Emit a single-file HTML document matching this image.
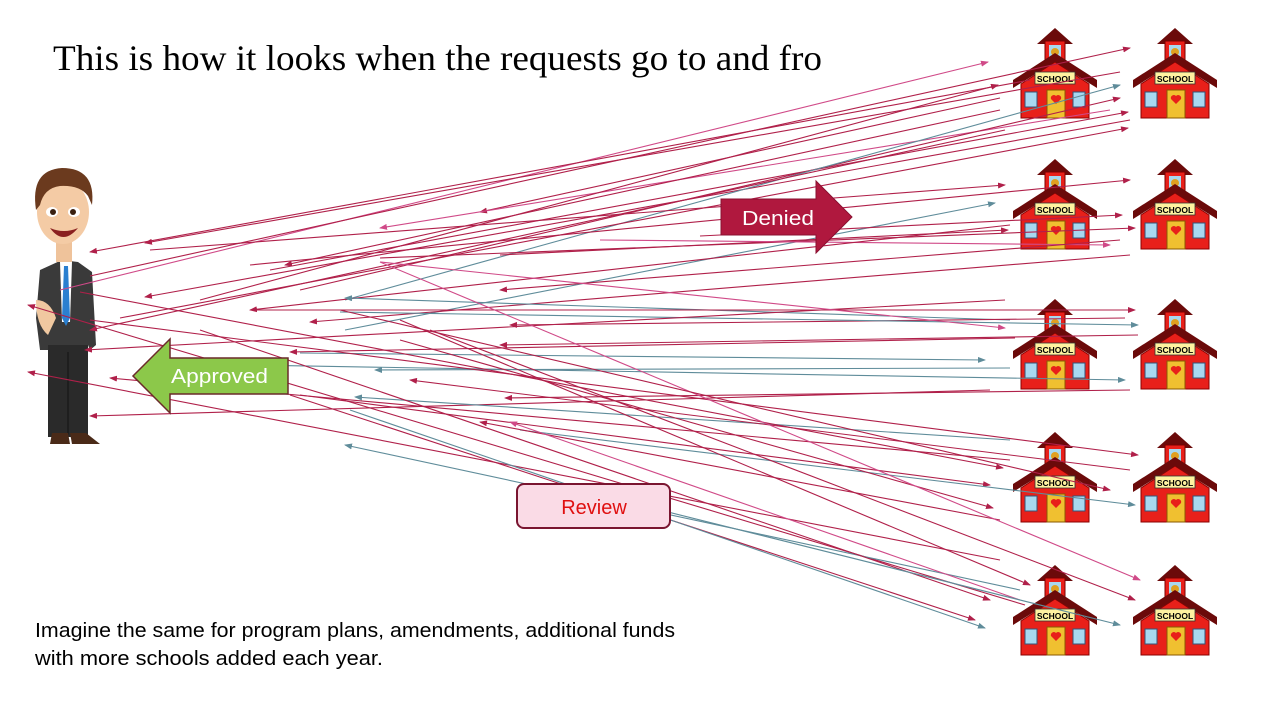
<!DOCTYPE html>
<html><head><meta charset="utf-8"><style>
html,body{margin:0;padding:0;background:#fff;}
svg{display:block}
</style></head><body>
<svg width="1280" height="720" viewBox="0 0 1280 720" xmlns="http://www.w3.org/2000/svg">
<defs>
<marker id="mc" markerWidth="8" markerHeight="6" refX="7" refY="3" orient="auto" markerUnits="userSpaceOnUse"><path d="M0,0 L8,3 L0,6z" fill="#b0204a"/></marker>
<marker id="mp" markerWidth="8" markerHeight="6" refX="7" refY="3" orient="auto" markerUnits="userSpaceOnUse"><path d="M0,0 L8,3 L0,6z" fill="#d04a88"/></marker>
<marker id="mt" markerWidth="8" markerHeight="6" refX="7" refY="3" orient="auto" markerUnits="userSpaceOnUse"><path d="M0,0 L8,3 L0,6z" fill="#5f8c9a"/></marker>
</defs>
<text x="53" y="70" font-family="Liberation Serif, serif" font-size="36" textLength="769" lengthAdjust="spacingAndGlyphs" fill="#000">This is how it looks when the requests go to and fro</text>

<g id="schools">
<g transform="translate(1013,28)"><polygon points="42,0 24,16 60,16" fill="#6b0a0a"/><rect x="32" y="13" width="20" height="24" fill="#e8201a" stroke="#700" /><rect x="36" y="17" width="12" height="13" fill="#a8d8f0"/><circle cx="42" cy="24" r="4" fill="#e0a020"/><polygon points="8,56 42,34 76,56 76,90 8,90" fill="#e8201a" stroke="#8a0000"/><polygon points="0,52 42,25 84,52 84,60 42,34 0,60" fill="#6b0a0a"/><rect x="22" y="44" width="40" height="12" fill="#fff2a0" stroke="#333" stroke-width=".8"/><text x="42" y="54" text-anchor="middle" font-family="Liberation Sans,sans-serif" font-weight="bold" font-size="8.5">SCHOOL</text><rect x="12" y="64" width="12" height="15" fill="#a8d8f0" stroke="#357"/><rect x="60" y="64" width="12" height="15" fill="#a8d8f0" stroke="#357"/><rect x="34" y="62" width="18" height="28" fill="#f0c030" stroke="#8a5a00"/><path d="M43,76 l-5,-5 a3,3 0 0 1 5,-3 a3,3 0 0 1 5,3z" fill="#e8201a"/></g>
<g transform="translate(1133,28)"><polygon points="42,0 24,16 60,16" fill="#6b0a0a"/><rect x="32" y="13" width="20" height="24" fill="#e8201a" stroke="#700" /><rect x="36" y="17" width="12" height="13" fill="#a8d8f0"/><circle cx="42" cy="24" r="4" fill="#e0a020"/><polygon points="8,56 42,34 76,56 76,90 8,90" fill="#e8201a" stroke="#8a0000"/><polygon points="0,52 42,25 84,52 84,60 42,34 0,60" fill="#6b0a0a"/><rect x="22" y="44" width="40" height="12" fill="#fff2a0" stroke="#333" stroke-width=".8"/><text x="42" y="54" text-anchor="middle" font-family="Liberation Sans,sans-serif" font-weight="bold" font-size="8.5">SCHOOL</text><rect x="12" y="64" width="12" height="15" fill="#a8d8f0" stroke="#357"/><rect x="60" y="64" width="12" height="15" fill="#a8d8f0" stroke="#357"/><rect x="34" y="62" width="18" height="28" fill="#f0c030" stroke="#8a5a00"/><path d="M43,76 l-5,-5 a3,3 0 0 1 5,-3 a3,3 0 0 1 5,3z" fill="#e8201a"/></g>
<g transform="translate(1013,159)"><polygon points="42,0 24,16 60,16" fill="#6b0a0a"/><rect x="32" y="13" width="20" height="24" fill="#e8201a" stroke="#700" /><rect x="36" y="17" width="12" height="13" fill="#a8d8f0"/><circle cx="42" cy="24" r="4" fill="#e0a020"/><polygon points="8,56 42,34 76,56 76,90 8,90" fill="#e8201a" stroke="#8a0000"/><polygon points="0,52 42,25 84,52 84,60 42,34 0,60" fill="#6b0a0a"/><rect x="22" y="44" width="40" height="12" fill="#fff2a0" stroke="#333" stroke-width=".8"/><text x="42" y="54" text-anchor="middle" font-family="Liberation Sans,sans-serif" font-weight="bold" font-size="8.5">SCHOOL</text><rect x="12" y="64" width="12" height="15" fill="#a8d8f0" stroke="#357"/><rect x="60" y="64" width="12" height="15" fill="#a8d8f0" stroke="#357"/><rect x="34" y="62" width="18" height="28" fill="#f0c030" stroke="#8a5a00"/><path d="M43,76 l-5,-5 a3,3 0 0 1 5,-3 a3,3 0 0 1 5,3z" fill="#e8201a"/></g>
<g transform="translate(1133,159)"><polygon points="42,0 24,16 60,16" fill="#6b0a0a"/><rect x="32" y="13" width="20" height="24" fill="#e8201a" stroke="#700" /><rect x="36" y="17" width="12" height="13" fill="#a8d8f0"/><circle cx="42" cy="24" r="4" fill="#e0a020"/><polygon points="8,56 42,34 76,56 76,90 8,90" fill="#e8201a" stroke="#8a0000"/><polygon points="0,52 42,25 84,52 84,60 42,34 0,60" fill="#6b0a0a"/><rect x="22" y="44" width="40" height="12" fill="#fff2a0" stroke="#333" stroke-width=".8"/><text x="42" y="54" text-anchor="middle" font-family="Liberation Sans,sans-serif" font-weight="bold" font-size="8.5">SCHOOL</text><rect x="12" y="64" width="12" height="15" fill="#a8d8f0" stroke="#357"/><rect x="60" y="64" width="12" height="15" fill="#a8d8f0" stroke="#357"/><rect x="34" y="62" width="18" height="28" fill="#f0c030" stroke="#8a5a00"/><path d="M43,76 l-5,-5 a3,3 0 0 1 5,-3 a3,3 0 0 1 5,3z" fill="#e8201a"/></g>
<g transform="translate(1013,299)"><polygon points="42,0 24,16 60,16" fill="#6b0a0a"/><rect x="32" y="13" width="20" height="24" fill="#e8201a" stroke="#700" /><rect x="36" y="17" width="12" height="13" fill="#a8d8f0"/><circle cx="42" cy="24" r="4" fill="#e0a020"/><polygon points="8,56 42,34 76,56 76,90 8,90" fill="#e8201a" stroke="#8a0000"/><polygon points="0,52 42,25 84,52 84,60 42,34 0,60" fill="#6b0a0a"/><rect x="22" y="44" width="40" height="12" fill="#fff2a0" stroke="#333" stroke-width=".8"/><text x="42" y="54" text-anchor="middle" font-family="Liberation Sans,sans-serif" font-weight="bold" font-size="8.5">SCHOOL</text><rect x="12" y="64" width="12" height="15" fill="#a8d8f0" stroke="#357"/><rect x="60" y="64" width="12" height="15" fill="#a8d8f0" stroke="#357"/><rect x="34" y="62" width="18" height="28" fill="#f0c030" stroke="#8a5a00"/><path d="M43,76 l-5,-5 a3,3 0 0 1 5,-3 a3,3 0 0 1 5,3z" fill="#e8201a"/></g>
<g transform="translate(1133,299)"><polygon points="42,0 24,16 60,16" fill="#6b0a0a"/><rect x="32" y="13" width="20" height="24" fill="#e8201a" stroke="#700" /><rect x="36" y="17" width="12" height="13" fill="#a8d8f0"/><circle cx="42" cy="24" r="4" fill="#e0a020"/><polygon points="8,56 42,34 76,56 76,90 8,90" fill="#e8201a" stroke="#8a0000"/><polygon points="0,52 42,25 84,52 84,60 42,34 0,60" fill="#6b0a0a"/><rect x="22" y="44" width="40" height="12" fill="#fff2a0" stroke="#333" stroke-width=".8"/><text x="42" y="54" text-anchor="middle" font-family="Liberation Sans,sans-serif" font-weight="bold" font-size="8.5">SCHOOL</text><rect x="12" y="64" width="12" height="15" fill="#a8d8f0" stroke="#357"/><rect x="60" y="64" width="12" height="15" fill="#a8d8f0" stroke="#357"/><rect x="34" y="62" width="18" height="28" fill="#f0c030" stroke="#8a5a00"/><path d="M43,76 l-5,-5 a3,3 0 0 1 5,-3 a3,3 0 0 1 5,3z" fill="#e8201a"/></g>
<g transform="translate(1013,432)"><polygon points="42,0 24,16 60,16" fill="#6b0a0a"/><rect x="32" y="13" width="20" height="24" fill="#e8201a" stroke="#700" /><rect x="36" y="17" width="12" height="13" fill="#a8d8f0"/><circle cx="42" cy="24" r="4" fill="#e0a020"/><polygon points="8,56 42,34 76,56 76,90 8,90" fill="#e8201a" stroke="#8a0000"/><polygon points="0,52 42,25 84,52 84,60 42,34 0,60" fill="#6b0a0a"/><rect x="22" y="44" width="40" height="12" fill="#fff2a0" stroke="#333" stroke-width=".8"/><text x="42" y="54" text-anchor="middle" font-family="Liberation Sans,sans-serif" font-weight="bold" font-size="8.5">SCHOOL</text><rect x="12" y="64" width="12" height="15" fill="#a8d8f0" stroke="#357"/><rect x="60" y="64" width="12" height="15" fill="#a8d8f0" stroke="#357"/><rect x="34" y="62" width="18" height="28" fill="#f0c030" stroke="#8a5a00"/><path d="M43,76 l-5,-5 a3,3 0 0 1 5,-3 a3,3 0 0 1 5,3z" fill="#e8201a"/></g>
<g transform="translate(1133,432)"><polygon points="42,0 24,16 60,16" fill="#6b0a0a"/><rect x="32" y="13" width="20" height="24" fill="#e8201a" stroke="#700" /><rect x="36" y="17" width="12" height="13" fill="#a8d8f0"/><circle cx="42" cy="24" r="4" fill="#e0a020"/><polygon points="8,56 42,34 76,56 76,90 8,90" fill="#e8201a" stroke="#8a0000"/><polygon points="0,52 42,25 84,52 84,60 42,34 0,60" fill="#6b0a0a"/><rect x="22" y="44" width="40" height="12" fill="#fff2a0" stroke="#333" stroke-width=".8"/><text x="42" y="54" text-anchor="middle" font-family="Liberation Sans,sans-serif" font-weight="bold" font-size="8.5">SCHOOL</text><rect x="12" y="64" width="12" height="15" fill="#a8d8f0" stroke="#357"/><rect x="60" y="64" width="12" height="15" fill="#a8d8f0" stroke="#357"/><rect x="34" y="62" width="18" height="28" fill="#f0c030" stroke="#8a5a00"/><path d="M43,76 l-5,-5 a3,3 0 0 1 5,-3 a3,3 0 0 1 5,3z" fill="#e8201a"/></g>
<g transform="translate(1013,565)"><polygon points="42,0 24,16 60,16" fill="#6b0a0a"/><rect x="32" y="13" width="20" height="24" fill="#e8201a" stroke="#700" /><rect x="36" y="17" width="12" height="13" fill="#a8d8f0"/><circle cx="42" cy="24" r="4" fill="#e0a020"/><polygon points="8,56 42,34 76,56 76,90 8,90" fill="#e8201a" stroke="#8a0000"/><polygon points="0,52 42,25 84,52 84,60 42,34 0,60" fill="#6b0a0a"/><rect x="22" y="44" width="40" height="12" fill="#fff2a0" stroke="#333" stroke-width=".8"/><text x="42" y="54" text-anchor="middle" font-family="Liberation Sans,sans-serif" font-weight="bold" font-size="8.5">SCHOOL</text><rect x="12" y="64" width="12" height="15" fill="#a8d8f0" stroke="#357"/><rect x="60" y="64" width="12" height="15" fill="#a8d8f0" stroke="#357"/><rect x="34" y="62" width="18" height="28" fill="#f0c030" stroke="#8a5a00"/><path d="M43,76 l-5,-5 a3,3 0 0 1 5,-3 a3,3 0 0 1 5,3z" fill="#e8201a"/></g>
<g transform="translate(1133,565)"><polygon points="42,0 24,16 60,16" fill="#6b0a0a"/><rect x="32" y="13" width="20" height="24" fill="#e8201a" stroke="#700" /><rect x="36" y="17" width="12" height="13" fill="#a8d8f0"/><circle cx="42" cy="24" r="4" fill="#e0a020"/><polygon points="8,56 42,34 76,56 76,90 8,90" fill="#e8201a" stroke="#8a0000"/><polygon points="0,52 42,25 84,52 84,60 42,34 0,60" fill="#6b0a0a"/><rect x="22" y="44" width="40" height="12" fill="#fff2a0" stroke="#333" stroke-width=".8"/><text x="42" y="54" text-anchor="middle" font-family="Liberation Sans,sans-serif" font-weight="bold" font-size="8.5">SCHOOL</text><rect x="12" y="64" width="12" height="15" fill="#a8d8f0" stroke="#357"/><rect x="60" y="64" width="12" height="15" fill="#a8d8f0" stroke="#357"/><rect x="34" y="62" width="18" height="28" fill="#f0c030" stroke="#8a5a00"/><path d="M43,76 l-5,-5 a3,3 0 0 1 5,-3 a3,3 0 0 1 5,3z" fill="#e8201a"/></g>
</g>

<g>
<path d="M40,270 L62,260 L78,262 L92,272 L96,345 L90,350 L88,345 L84,350 L40,350 L36,318 Z" fill="#3a3a3a"/>
<polygon points="60,262 72,262 70,322 62,322" fill="#fff"/>
<polygon points="64,266 68,266 70,318 66,326 62,318" fill="#2a7fd0"/>
<path d="M36,300 Q50,300 56,318 L48,335 Q36,325 36,300z" fill="#f0c8a0"/>
<rect x="48" y="345" width="40" height="92" fill="#2a2a2a"/>
<line x1="68" y1="352" x2="68" y2="437" stroke="#111"/>
<path d="M52,433 L68,433 L70,444 L50,444z" fill="#4a2a18"/>
<path d="M70,433 L86,433 L100,444 L72,444z" fill="#4a2a18"/>
<rect x="56" y="238" width="16" height="24" fill="#efc39b"/>
<ellipse cx="63" cy="212" rx="26" ry="32" fill="#f4cba5"/>
<path d="M36,210 Q30,170 62,168 Q96,168 92,205 L88,196 Q80,185 60,186 Q44,188 40,205z" fill="#6b3a1e"/>
<ellipse cx="52" cy="212" rx="6" ry="5" fill="#fff"/><circle cx="53" cy="212" r="3" fill="#3a2010"/>
<ellipse cx="74" cy="212" rx="6" ry="5" fill="#fff"/><circle cx="73" cy="212" r="3" fill="#3a2010"/>
<path d="M50,228 Q63,246 78,228 Q64,234 50,228z" fill="#8a2020"/>
</g>

<g stroke-width="1.1" fill="none">
<line x1="60" y1="290" x2="988" y2="62" stroke="#d04a88" marker-end="url(#mp)"/>
<line x1="90" y1="276" x2="1130" y2="48" stroke="#b0204a" marker-end="url(#mc)"/>
<line x1="1030" y1="80" x2="90" y2="252" stroke="#b0204a" marker-end="url(#mc)"/>
<line x1="1120" y1="72" x2="145" y2="243" stroke="#b0204a" marker-end="url(#mc)"/>
<line x1="1000" y1="98" x2="480" y2="212" stroke="#b0204a" marker-end="url(#mc)"/>
<line x1="1110" y1="110" x2="380" y2="228" stroke="#d04a88" marker-end="url(#mp)"/>
<line x1="1000" y1="110" x2="285" y2="265" stroke="#b0204a" marker-end="url(#mc)"/>
<line x1="1130" y1="120" x2="145" y2="297" stroke="#b0204a" marker-end="url(#mc)"/>
<line x1="300" y1="290" x2="1120" y2="98" stroke="#b0204a" marker-end="url(#mc)"/>
<line x1="270" y1="270" x2="1128" y2="112" stroke="#b0204a" marker-end="url(#mc)"/>
<line x1="345" y1="300" x2="1120" y2="85" stroke="#5f8c9a" marker-end="url(#mt)"/>
<line x1="200" y1="300" x2="998" y2="85" stroke="#b0204a" marker-end="url(#mc)"/>
<line x1="120" y1="318" x2="1128" y2="128" stroke="#b0204a" marker-end="url(#mc)"/>
<line x1="1005" y1="130" x2="90" y2="330" stroke="#b0204a" marker-end="url(#mc)"/>
<line x1="150" y1="250" x2="1005" y2="185" stroke="#b0204a" marker-end="url(#mc)"/>
<line x1="250" y1="265" x2="1130" y2="180" stroke="#b0204a" marker-end="url(#mc)"/>
<line x1="345" y1="330" x2="995" y2="203" stroke="#5f8c9a" marker-end="url(#mt)"/>
<line x1="700" y1="236" x2="1122" y2="215" stroke="#b0204a" marker-end="url(#mc)"/>
<line x1="500" y1="255" x2="1008" y2="230" stroke="#b0204a" marker-end="url(#mc)"/>
<line x1="380" y1="258" x2="1135" y2="228" stroke="#b0204a" marker-end="url(#mc)"/>
<line x1="600" y1="240" x2="1110" y2="245" stroke="#d04a88" marker-end="url(#mp)"/>
<line x1="1120" y1="240" x2="500" y2="290" stroke="#b0204a" marker-end="url(#mc)"/>
<line x1="1010" y1="225" x2="250" y2="310" stroke="#b0204a" marker-end="url(#mc)"/>
<line x1="1130" y1="255" x2="310" y2="322" stroke="#b0204a" marker-end="url(#mc)"/>
<line x1="1010" y1="320" x2="345" y2="298" stroke="#5f8c9a" marker-end="url(#mt)"/>
<line x1="1125" y1="318" x2="510" y2="325" stroke="#b0204a" marker-end="url(#mc)"/>
<line x1="1015" y1="338" x2="290" y2="352" stroke="#b0204a" marker-end="url(#mc)"/>
<line x1="1138" y1="335" x2="500" y2="345" stroke="#b0204a" marker-end="url(#mc)"/>
<line x1="250" y1="310" x2="1135" y2="310" stroke="#b0204a" marker-end="url(#mc)"/>
<line x1="340" y1="312" x2="1138" y2="325" stroke="#5f8c9a" marker-end="url(#mt)"/>
<line x1="1005" y1="300" x2="85" y2="350" stroke="#b0204a" marker-end="url(#mc)"/>
<line x1="380" y1="262" x2="1005" y2="328" stroke="#d04a88" marker-end="url(#mp)"/>
<line x1="300" y1="353" x2="985" y2="360" stroke="#5f8c9a" marker-end="url(#mt)"/>
<line x1="250" y1="365" x2="1125" y2="380" stroke="#5f8c9a" marker-end="url(#mt)"/>
<line x1="1010" y1="368" x2="375" y2="370" stroke="#5f8c9a" marker-end="url(#mt)"/>
<line x1="990" y1="390" x2="90" y2="416" stroke="#b0204a" marker-end="url(#mc)"/>
<line x1="1130" y1="390" x2="505" y2="398" stroke="#b0204a" marker-end="url(#mc)"/>
<line x1="1010" y1="440" x2="355" y2="397" stroke="#5f8c9a" marker-end="url(#mt)"/>
<line x1="80" y1="292" x2="1003" y2="468" stroke="#b0204a" marker-end="url(#mc)"/>
<line x1="90" y1="320" x2="1138" y2="455" stroke="#b0204a" marker-end="url(#mc)"/>
<line x1="1130" y1="470" x2="410" y2="380" stroke="#b0204a" marker-end="url(#mc)"/>
<line x1="1010" y1="460" x2="110" y2="378" stroke="#b0204a" marker-end="url(#mc)"/>
<line x1="300" y1="395" x2="990" y2="485" stroke="#b0204a" marker-end="url(#mc)"/>
<line x1="520" y1="430" x2="1135" y2="505" stroke="#5f8c9a" marker-end="url(#mt)"/>
<line x1="1000" y1="520" x2="480" y2="422" stroke="#b0204a" marker-end="url(#mc)"/>
<line x1="400" y1="340" x2="993" y2="508" stroke="#b0204a" marker-end="url(#mc)"/>
<line x1="1000" y1="560" x2="28" y2="372" stroke="#b0204a" marker-end="url(#mc)"/>
<line x1="1025" y1="605" x2="28" y2="305" stroke="#b0204a" marker-end="url(#mc)"/>
<line x1="1020" y1="590" x2="345" y2="445" stroke="#5f8c9a" marker-end="url(#mt)"/>
<line x1="1020" y1="600" x2="510" y2="422" stroke="#d04a88" marker-end="url(#mp)"/>
<line x1="380" y1="262" x2="1140" y2="580" stroke="#d04a88" marker-end="url(#mp)"/>
<line x1="400" y1="320" x2="1030" y2="585" stroke="#b0204a" marker-end="url(#mc)"/>
<line x1="430" y1="330" x2="1135" y2="600" stroke="#b0204a" marker-end="url(#mc)"/>
<line x1="200" y1="330" x2="990" y2="600" stroke="#b0204a" marker-end="url(#mc)"/>
<line x1="290" y1="395" x2="975" y2="620" stroke="#b0204a" marker-end="url(#mc)"/>
<line x1="350" y1="410" x2="985" y2="628" stroke="#5f8c9a" marker-end="url(#mt)"/>
<line x1="620" y1="500" x2="1120" y2="625" stroke="#5f8c9a" marker-end="url(#mt)"/>
<line x1="340" y1="310" x2="1110" y2="490" stroke="#b0204a" marker-end="url(#mc)"/>
</g>

<polygon points="721,199 816,199 816,181 852,217 816,253 816,235 721,235" fill="#b0183e" stroke="#8a1030"/>
<text x="742" y="225" font-family="Liberation Sans,sans-serif" font-size="20" textLength="72" lengthAdjust="spacingAndGlyphs" fill="#fff">Denied</text>
<polygon points="288,358 170,358 170,339 133,376 170,413 170,394 288,394" fill="#8cc84a" stroke="#6a2a2a" stroke-width="1.5"/>
<text x="171" y="383" font-family="Liberation Sans,sans-serif" font-size="20" textLength="97" lengthAdjust="spacingAndGlyphs" fill="#fff">Approved</text>
<rect x="517" y="484" width="153" height="44" rx="7" fill="#fadbe6" stroke="#7a1530" stroke-width="2"/>
<text x="594" y="514" text-anchor="middle" font-family="Liberation Sans,sans-serif" font-size="20" fill="#e01010">Review</text>

<text x="35" y="637" font-family="Liberation Sans,sans-serif" font-size="20" textLength="640" lengthAdjust="spacingAndGlyphs" fill="#000">Imagine the same for program plans, amendments, additional funds</text>
<text x="35" y="665" font-family="Liberation Sans,sans-serif" font-size="20" textLength="348" lengthAdjust="spacingAndGlyphs" fill="#000">with more schools added each year.</text>
</svg>
</body></html>
